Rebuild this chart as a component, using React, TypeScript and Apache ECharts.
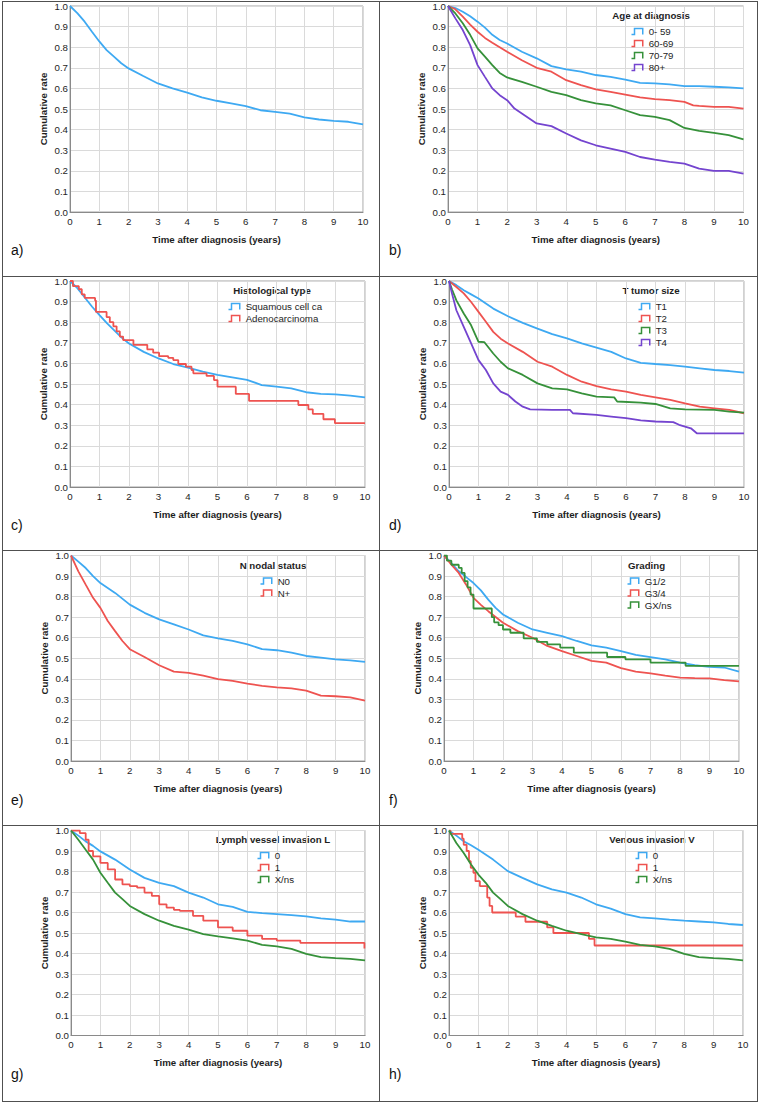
import React, { useEffect, useRef } from "react";
import * as echarts from "echarts";

type Pt = [number, number];

// ---- tick labels -------------------------------------------------------
const YEAR_TICKS = ["0", "1", "2", "3", "4", "5", "6", "7", "8", "9", "10"];
const RATE_TICKS = ["0.0", "0.1", "0.2", "0.3", "0.4", "0.5", "0.6", "0.7", "0.8", "0.9", "1.0"];

// ---- survival curves: [years, cumulative rate] ----------------------------
// a) all patients
const overall: Pt[] = [[0, 1], [0.25, 0.965], [0.5, 0.924], [0.75, 0.875], [1, 0.828], [1.25, 0.786], [1.5, 0.754], [1.75, 0.722], [2, 0.697], [2.5, 0.66], [3, 0.624], [3.5, 0.6], [4, 0.579], [4.5, 0.556], [5, 0.54], [5.5, 0.527], [6, 0.514], [6.5, 0.494], [7, 0.486], [7.5, 0.478], [8, 0.459], [8.5, 0.449], [9, 0.442], [9.5, 0.438], [10, 0.425]];

// b) age at diagnosis
const age0to59: Pt[] = [[0, 1], [0.25, 0.99], [0.5, 0.972], [0.75, 0.95], [1, 0.924], [1.25, 0.895], [1.5, 0.86], [1.75, 0.835], [2, 0.818], [2.5, 0.778], [3, 0.746], [3.5, 0.708], [4, 0.692], [4.5, 0.681], [5, 0.665], [5.5, 0.656], [6, 0.643], [6.5, 0.627], [7, 0.624], [7.5, 0.62], [8, 0.611], [8.5, 0.611], [9, 0.608], [9.5, 0.605], [10, 0.6]];
const age60to69: Pt[] = [[0, 1], [0.25, 0.984], [0.5, 0.948], [0.75, 0.91], [1, 0.875], [1.25, 0.845], [1.5, 0.822], [1.75, 0.8], [2, 0.778], [2.5, 0.737], [3, 0.7], [3.5, 0.681], [4, 0.64], [4.5, 0.616], [5, 0.595], [5.5, 0.583], [6, 0.57], [6.5, 0.556], [7, 0.548], [7.5, 0.543], [8, 0.535], [8.3, 0.518], [8.5, 0.515], [9, 0.51], [9.5, 0.51], [10, 0.502]];
const age70to79: Pt[] = [[0, 1], [0.25, 0.964], [0.5, 0.916], [0.75, 0.86], [1, 0.794], [1.25, 0.754], [1.5, 0.713], [1.75, 0.675], [2, 0.653], [2.5, 0.632], [3, 0.608], [3.5, 0.583], [4, 0.567], [4.5, 0.543], [5, 0.527], [5.5, 0.518], [6, 0.494], [6.5, 0.47], [7, 0.462], [7.5, 0.446], [8, 0.408], [8.5, 0.394], [9, 0.384], [9.5, 0.373], [10, 0.352]];
const age80plus: Pt[] = [[0, 1], [0.25, 0.94], [0.5, 0.883], [0.75, 0.81], [1, 0.713], [1.25, 0.656], [1.5, 0.6], [1.75, 0.567], [2, 0.543], [2.25, 0.502], [2.5, 0.478], [3, 0.43], [3.5, 0.417], [4, 0.381], [4.5, 0.348], [5, 0.324], [5.5, 0.308], [6, 0.292], [6.5, 0.267], [7, 0.254], [7.5, 0.243], [8, 0.235], [8.5, 0.211], [9, 0.2], [9.5, 0.2], [10, 0.186]];

// c) histological type
const histSquamous: Pt[] = [[0, 1], [0.25, 0.965], [0.5, 0.92], [0.75, 0.875], [1, 0.834], [1.25, 0.795], [1.5, 0.76], [1.75, 0.725], [2, 0.697], [2.5, 0.656], [3, 0.624], [3.5, 0.597], [4, 0.579], [4.5, 0.56], [5, 0.544], [5.5, 0.532], [6, 0.52], [6.5, 0.495], [7, 0.487], [7.5, 0.479], [8, 0.46], [8.5, 0.452], [9, 0.45], [9.5, 0.444], [10, 0.435]];
const histAdeno: Pt[] = [[0, 1], [0.1, 0.975], [0.3, 0.96], [0.4, 0.935], [0.5, 0.918], [0.85, 0.905], [0.88, 0.85], [1.24, 0.825], [1.35, 0.8], [1.47, 0.78], [1.58, 0.755], [1.69, 0.73], [1.8, 0.713], [2.15, 0.69], [2.62, 0.668], [2.82, 0.652], [3.02, 0.635], [3.33, 0.627], [3.5, 0.616], [3.67, 0.597], [3.93, 0.584], [4.12, 0.568], [4.18, 0.552], [4.63, 0.539], [4.88, 0.519], [5.0, 0.487], [5.62, 0.452], [6.07, 0.418], [7.74, 0.398], [8.08, 0.377], [8.23, 0.355], [8.59, 0.329], [8.98, 0.31], [10, 0.31]];

// d) T tumor size
const tumorT1: Pt[] = [[0, 1], [0.25, 0.98], [0.5, 0.955], [0.75, 0.935], [1, 0.915], [1.5, 0.866], [2, 0.829], [2.5, 0.797], [3, 0.769], [3.5, 0.742], [4, 0.721], [4.5, 0.697], [5, 0.677], [5.5, 0.656], [6, 0.624], [6.5, 0.603], [7, 0.597], [7.5, 0.592], [8, 0.584], [8.5, 0.576], [9, 0.568], [9.5, 0.563], [10, 0.555]];
const tumorT2: Pt[] = [[0, 1], [0.25, 0.971], [0.5, 0.94], [0.75, 0.898], [1, 0.85], [1.25, 0.802], [1.5, 0.753], [1.75, 0.72], [2, 0.697], [2.5, 0.656], [3, 0.608], [3.5, 0.584], [4, 0.544], [4.5, 0.511], [5, 0.49], [5.5, 0.474], [6, 0.463], [6.5, 0.447], [7, 0.435], [7.5, 0.423], [8, 0.406], [8.5, 0.39], [9, 0.382], [9.5, 0.374], [10, 0.358]];
const tumorT3: Pt[] = [[0, 1], [0.1, 0.96], [0.25, 0.906], [0.5, 0.842], [0.75, 0.785], [1, 0.705], [1.2, 0.703], [1.5, 0.648], [1.75, 0.608], [2, 0.576], [2.5, 0.544], [3, 0.503], [3.5, 0.479], [4, 0.474], [4.5, 0.455], [5, 0.439], [5.6, 0.435], [5.7, 0.415], [6.5, 0.41], [7, 0.403], [7.5, 0.382], [8, 0.377], [9, 0.374], [9.5, 0.366], [10, 0.361]];
const tumorT4: Pt[] = [[0, 1], [0.1, 0.94], [0.25, 0.858], [0.5, 0.777], [0.75, 0.697], [1, 0.616], [1.25, 0.568], [1.5, 0.503], [1.75, 0.463], [2, 0.447], [2.25, 0.415], [2.5, 0.39], [2.75, 0.377], [3.5, 0.374], [4.1, 0.374], [4.2, 0.358], [5, 0.35], [5.5, 0.342], [6, 0.334], [6.5, 0.323], [7, 0.318], [7.6, 0.315], [7.8, 0.302], [8.2, 0.285], [8.4, 0.261], [10, 0.26]];

// e) N nodal status
const nodalN0: Pt[] = [[0, 1], [0.25, 0.97], [0.5, 0.939], [0.75, 0.9], [1, 0.866], [1.5, 0.818], [2, 0.761], [2.5, 0.721], [3, 0.689], [3.5, 0.665], [4, 0.64], [4.5, 0.611], [5, 0.597], [5.5, 0.584], [6, 0.568], [6.5, 0.544], [7, 0.539], [7.5, 0.527], [8, 0.511], [8.5, 0.503], [9, 0.495], [9.5, 0.49], [10, 0.482]];
const nodalNplus: Pt[] = [[0, 1], [0.25, 0.923], [0.5, 0.858], [0.75, 0.794], [1, 0.745], [1.25, 0.681], [1.5, 0.632], [1.75, 0.584], [2, 0.544], [2.5, 0.506], [3, 0.466], [3.5, 0.435], [4, 0.429], [4.5, 0.415], [5, 0.398], [5.5, 0.39], [6, 0.377], [6.5, 0.366], [7, 0.358], [7.5, 0.353], [8, 0.342], [8.5, 0.318], [9, 0.315], [9.5, 0.31], [10, 0.294]];

// f) grading
const gradeG12: Pt[] = [[0, 1], [0.25, 0.963], [0.5, 0.923], [0.75, 0.895], [1, 0.866], [1.25, 0.83], [1.5, 0.785], [1.75, 0.745], [2, 0.713], [2.5, 0.673], [3, 0.64], [3.5, 0.624], [4, 0.608], [4.5, 0.584], [5, 0.563], [5.5, 0.552], [6, 0.535], [6.5, 0.516], [7, 0.506], [7.5, 0.495], [8, 0.479], [8.5, 0.466], [9, 0.458], [9.5, 0.455], [10, 0.435]];
const gradeG34: Pt[] = [[0, 1], [0.25, 0.955], [0.5, 0.915], [0.75, 0.858], [1, 0.794], [1.25, 0.76], [1.5, 0.729], [2, 0.673], [2.5, 0.632], [3, 0.6], [3.5, 0.56], [4, 0.535], [4.5, 0.511], [5, 0.487], [5.5, 0.479], [6, 0.452], [6.5, 0.435], [7, 0.426], [7.5, 0.415], [8, 0.406], [8.5, 0.403], [9, 0.402], [9.5, 0.394], [10, 0.387]];
const gradeGX: Pt[] = [[0, 1], [0.1, 0.975], [0.25, 0.955], [0.5, 0.94], [0.6, 0.915], [0.7, 0.875], [0.8, 0.845], [0.9, 0.81], [1.0, 0.742], [1.62, 0.7], [1.7, 0.675], [1.85, 0.661], [2.0, 0.64], [2.25, 0.624], [2.7, 0.597], [3.15, 0.58], [3.5, 0.568], [3.94, 0.552], [4.4, 0.527], [5.53, 0.506], [6.15, 0.495], [7.0, 0.479], [8.19, 0.463], [10, 0.463]];

// g) lymph vessel invasion
const lymphL0: Pt[] = [[0, 1], [0.25, 0.975], [0.5, 0.947], [0.75, 0.925], [1, 0.898], [1.5, 0.858], [2, 0.81], [2.5, 0.769], [3, 0.745], [3.5, 0.729], [4, 0.697], [4.5, 0.673], [5, 0.64], [5.5, 0.627], [6, 0.603], [6.5, 0.597], [7, 0.592], [7.5, 0.587], [8, 0.581], [8.5, 0.571], [9, 0.565], [9.5, 0.556], [10, 0.556]];
const lymphL1: Pt[] = [[0, 1], [0.3, 0.987], [0.5, 0.955], [0.6, 0.9], [0.75, 0.874], [1, 0.842], [1.25, 0.81], [1.5, 0.761], [1.75, 0.737], [2, 0.729], [2.25, 0.721], [2.5, 0.697], [2.75, 0.681], [3, 0.64], [3.25, 0.624], [3.5, 0.613], [3.7, 0.608], [4.15, 0.584], [4.5, 0.56], [5, 0.527], [5.5, 0.511], [6, 0.487], [6.5, 0.471], [7, 0.463], [7.8, 0.452], [9.98, 0.425], [10, 0.425]];
const lymphLX: Pt[] = [[0, 1], [0.25, 0.955], [0.5, 0.906], [0.75, 0.858], [1, 0.794], [1.25, 0.745], [1.5, 0.697], [1.75, 0.665], [2, 0.632], [2.5, 0.592], [3, 0.56], [3.5, 0.535], [4, 0.516], [4.5, 0.495], [5, 0.484], [5.5, 0.474], [6, 0.463], [6.5, 0.442], [7, 0.435], [7.5, 0.423], [8, 0.398], [8.5, 0.382], [9, 0.377], [9.5, 0.374], [10, 0.366]];

// h) venous invasion
const venousV0: Pt[] = [[0, 1], [0.25, 0.975], [0.5, 0.947], [0.75, 0.928], [1, 0.906], [1.5, 0.858], [2, 0.802], [2.5, 0.769], [3, 0.737], [3.5, 0.713], [4, 0.697], [4.5, 0.673], [5, 0.64], [5.5, 0.619], [6, 0.592], [6.5, 0.576], [7, 0.571], [7.5, 0.565], [8, 0.56], [8.5, 0.556], [9, 0.552], [9.5, 0.544], [10, 0.539]];
const venousV1: Pt[] = [[0, 1], [0.05, 0.984], [0.45, 0.96], [0.5, 0.93], [0.6, 0.9], [0.68, 0.85], [0.74, 0.818], [0.83, 0.794], [0.9, 0.753], [1.05, 0.729], [1.3, 0.673], [1.38, 0.632], [1.47, 0.6], [2.27, 0.58], [2.6, 0.555], [3.34, 0.527], [3.55, 0.5], [4.76, 0.471], [4.95, 0.439], [10, 0.439]];
const venousVX: Pt[] = [[0, 1], [0.25, 0.939], [0.5, 0.89], [0.75, 0.834], [1, 0.785], [1.25, 0.745], [1.5, 0.697], [1.75, 0.665], [2, 0.632], [2.5, 0.592], [3, 0.56], [3.5, 0.535], [4, 0.511], [4.5, 0.495], [5, 0.479], [5.5, 0.471], [6, 0.458], [6.5, 0.442], [7, 0.435], [7.5, 0.423], [8, 0.398], [8.5, 0.382], [9, 0.377], [9.5, 0.374], [10, 0.366]];

// ---- styling ------------------------------------------------------------
const BLUE = "#3ea9f2";
const RED = "#ee5350";
const GREEN = "#36913a";
const PURPLE = "#7444cf";
const FONT = '"Liberation Sans", Arial, Helvetica, sans-serif';
const FS = 9.7;
const INK = "#1e1e1e";
const STEP_ICON = "path://M0,9L4,9L4,1L15,1L15,9";

type Group = { name: string; color: string; data: Pt[]; step: boolean };
type Panel = {
  tag: string;
  legendTitle: string | null;
  groups: Group[];
  // layout
  left: number; top: number; width: number; height: number;
  rowTop: number; colLeft: number;
  legendX: number; titleX: number;
};

const PANELS: Panel[] = [
  { tag: "a)", legendTitle: null, groups: [{ name: "All", color: BLUE, data: overall, step: false }],
    left: 70, top: 6, width: 293, height: 206, rowTop: 1, colLeft: 2, legendX: 0, titleX: 0 },
  { tag: "b)", legendTitle: "Age at diagnosis", groups: [
      { name: "0- 59", color: BLUE, data: age0to59, step: false },
      { name: "60-69", color: RED, data: age60to69, step: false },
      { name: "70-79", color: GREEN, data: age70to79, step: false },
      { name: "80+", color: PURPLE, data: age80plus, step: false }],
    left: 448, top: 6, width: 295.5, height: 206, rowTop: 1, colLeft: 380, legendX: 629, titleX: 651 },
  { tag: "c)", legendTitle: "Histological type", groups: [
      { name: "Squamous cell ca", color: BLUE, data: histSquamous, step: false },
      { name: "Adenocarcinoma", color: RED, data: histAdeno, step: true }],
    left: 70, top: 281, width: 295, height: 206, rowTop: 276, colLeft: 2, legendX: 226, titleX: 272 },
  { tag: "d)", legendTitle: "T tumor size", groups: [
      { name: "T1", color: BLUE, data: tumorT1, step: false },
      { name: "T2", color: RED, data: tumorT2, step: false },
      { name: "T3", color: GREEN, data: tumorT3, step: false },
      { name: "T4", color: PURPLE, data: tumorT4, step: false }],
    left: 449, top: 281, width: 295, height: 206, rowTop: 276, colLeft: 380, legendX: 636, titleX: 651 },
  { tag: "e)", legendTitle: "N nodal status", groups: [
      { name: "N0", color: BLUE, data: nodalN0, step: false },
      { name: "N+", color: RED, data: nodalNplus, step: false }],
    left: 71, top: 555.5, width: 294, height: 205.5, rowTop: 550.5, colLeft: 2, legendX: 258, titleX: 273 },
  { tag: "f)", legendTitle: "Grading", groups: [
      { name: "G1/2", color: BLUE, data: gradeG12, step: false },
      { name: "G3/4", color: RED, data: gradeG34, step: false },
      { name: "GX/ns", color: GREEN, data: gradeGX, step: true }],
    left: 444, top: 555.5, width: 295, height: 205.5, rowTop: 550.5, colLeft: 380, legendX: 625, titleX: 646.5 },
  { tag: "g)", legendTitle: "Lymph vessel invasion L", groups: [
      { name: "0", color: BLUE, data: lymphL0, step: false },
      { name: "1", color: RED, data: lymphL1, step: true },
      { name: "X/ns", color: GREEN, data: lymphLX, step: false }],
    left: 71, top: 830.5, width: 294, height: 205, rowTop: 825, colLeft: 2, legendX: 255, titleX: 273 },
  { tag: "h)", legendTitle: "Venous invasion V", groups: [
      { name: "0", color: BLUE, data: venousV0, step: false },
      { name: "1", color: RED, data: venousV1, step: true },
      { name: "X/ns", color: GREEN, data: venousVX, step: false }],
    left: 449, top: 830.5, width: 294, height: 205, rowTop: 825, colLeft: 380, legendX: 633, titleX: 652 },
];

function buildOption(): echarts.EChartsOption {
  const grid = PANELS.map((p) => ({
    left: p.left, top: p.top, width: p.width, height: p.height,
    show: true, borderColor: "#a3a3a3", borderWidth: 1,
    containLabel: false, outerBoundsMode: "none",
  }));

  const xAxis = PANELS.map((_, i) => ({
    type: "value", gridIndex: i, min: 0, max: 10, interval: 1,
    name: "Time after diagnosis (years)", nameLocation: "middle", nameGap: 22,
    nameTextStyle: { fontFamily: FONT, fontWeight: "bold", fontSize: FS, color: INK },
    axisLine: { show: true, lineStyle: { color: "#8a8a8a", width: 1 } },
    axisTick: { show: false },
    axisLabel: { fontFamily: FONT, fontSize: FS, color: INK, margin: 4,
      formatter: (v: number) => YEAR_TICKS[Math.round(v)] },
    splitLine: { show: true, lineStyle: { color: "#dadada", width: 1 } },
  }));

  const yAxis = PANELS.map((_, i) => ({
    type: "value", gridIndex: i, min: 0, max: 1, interval: 0.1,
    name: "Cumulative rate", nameLocation: "middle", nameGap: 22,
    nameTextStyle: { fontFamily: FONT, fontWeight: "bold", fontSize: FS, color: INK },
    axisLine: { show: true, lineStyle: { color: "#8a8a8a", width: 1 } },
    axisTick: { show: false },
    axisLabel: { fontFamily: FONT, fontSize: FS, color: INK, margin: 2,
      formatter: (v: number) => RATE_TICKS[Math.round(v * 10)] },
    splitLine: { show: true, lineStyle: { color: "#dadada", width: 1 } },
  }));

  const series: any[] = [];
  PANELS.forEach((p, i) => {
    p.groups.forEach((g) => {
      series.push({
        type: "line", name: g.name, xAxisIndex: i, yAxisIndex: i,
        data: g.data, step: g.step ? "end" : false,
        showSymbol: false, symbol: "none", silent: true,
        color: g.color,
        lineStyle: { color: g.color, width: 1.8 },
        itemStyle: { color: g.color },
      });
    });
  });

  // one vertical legend per panel, with a step-shaped outline icon
  const legend = PANELS.filter((p) => p.legendTitle).map((p) => ({
    orient: "vertical", left: p.legendX, top: p.rowTop + 24.5, padding: 0,
    itemGap: 0, itemWidth: 13, itemHeight: 6, icon: STEP_ICON,
    selectedMode: false,
    data: p.groups.map((g) => ({
      name: g.name,
      icon: STEP_ICON,
      itemStyle: { color: "none", borderColor: g.color, borderWidth: 1.5 },
    })),
    textStyle: { fontFamily: FONT, fontSize: FS, color: INK, lineHeight: 12 },
  }));

  const graphic: any[] = [];
  // frame of the 2 x 4 table
  const hLines = [1.5, 276.5, 550.5, 825.5, 1101.5];
  const vLines = [2.5, 379.5, 757.5];
  hLines.forEach((y) => graphic.push({ type: "line", silent: true, z: 0,
    shape: { x1: 2, y1: y, x2: 758, y2: y }, style: { stroke: "#505050", lineWidth: 1 } }));
  vLines.forEach((x) => graphic.push({ type: "line", silent: true, z: 0,
    shape: { x1: x, y1: 1, x2: x, y2: 1102 }, style: { stroke: "#505050", lineWidth: 1 } }));

  PANELS.forEach((p) => {
    graphic.push({ type: "text", silent: true, x: p.colLeft + 9, y: p.rowTop + 249,
      style: { text: p.tag, fontFamily: FONT, fontSize: 14, fill: "#111",
        align: "left", verticalAlign: "middle" } });
    if (p.legendTitle) {
      graphic.push({ type: "text", silent: true, x: p.titleX, y: p.rowTop + 14.5,
        style: { text: p.legendTitle, fontFamily: FONT, fontSize: FS, fontWeight: "bold",
          fill: INK, align: "center", verticalAlign: "middle" } });
    }
  });

  return {
    animation: false,
    backgroundColor: "#ffffff",
    textStyle: { fontFamily: FONT },
    grid, xAxis, yAxis, legend, series, graphic,
  } as any;
}

export default function App() {
  const ref = useRef<HTMLDivElement>(null);
  useEffect(() => {
    document.body.style.margin = "0";
    if (!ref.current) return;
    const chart = echarts.init(ref.current, undefined, { renderer: "svg" });
    chart.setOption(buildOption());
    return () => chart.dispose();
  }, []);
  return <div ref={ref} style={{ width: 760, height: 1104 }} />;
}
